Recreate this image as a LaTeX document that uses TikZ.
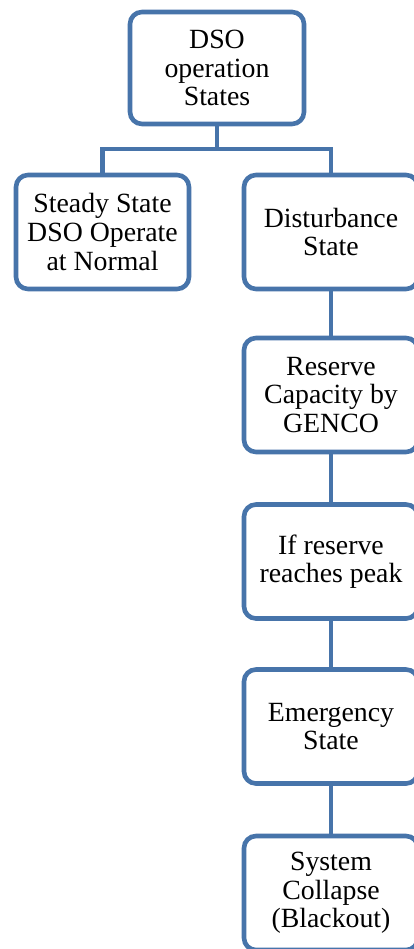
\documentclass[tikz,border=0pt]{standalone}
\usepackage{fontspec}
\setmainfont{Liberation Serif}
\definecolor{boxblue}{HTML}{4774AA}
\tikzset{
  statebox/.style={draw=boxblue, line width=4.6pt, rounded corners=12pt,
    fill=white, align=center, inner sep=0pt,
    font=\fontsize{27.8pt}{28.6pt}\selectfont, text=black},
  link/.style={draw=boxblue, line width=4.4pt}
}
\begin{document}
\begin{tikzpicture}[x=1pt,y=1pt]
  \fill[white] (0,0) rectangle (414,-949);
  \useasboundingbox (0,0) rectangle (414,-949);
  \clip (0,0) rectangle (414,-949);

  % root and first level
  \node[statebox, minimum width=174pt, minimum height=112pt] (root) at (217,-68)
    {DSO\\operation\\States};
  \node[statebox, minimum width=173pt, minimum height=114pt] (steady) at (102.5,-232)
    {Steady State\\DSO Operate\\at Normal};
  \node[statebox, minimum width=174pt, minimum height=114pt] (dist) at (331,-232)
    {Disturbance\\State};

  % chain under the disturbance state
  \node[statebox, minimum width=174pt, minimum height=114pt] (reserve) at (331,-395)
    {Reserve\\Capacity by\\GENCO};
  \node[statebox, minimum width=174pt, minimum height=114pt] (peak) at (331,-561.5)
    {If reserve\\reaches peak};
  \node[statebox, minimum width=174pt, minimum height=114pt] (emerg) at (331,-726.5)
    {Emergency\\State};
  \node[statebox, minimum width=174pt, minimum height=114pt] (collapse) at (331,-893)
    {System\\Collapse\\(Blackout)};

  % connectors
  \coordinate (bus) at (217,-149);
  \draw[link] (root.south) -- (bus);
  \draw[link] (steady.north) |- (bus) -| (dist.north);
  \draw[link] (dist.south) -- (reserve.north);
  \draw[link] (reserve.south) -- (peak.north);
  \draw[link] (peak.south) -- (emerg.north);
  \draw[link] (emerg.south) -- (collapse.north);
\end{tikzpicture}
\end{document}
